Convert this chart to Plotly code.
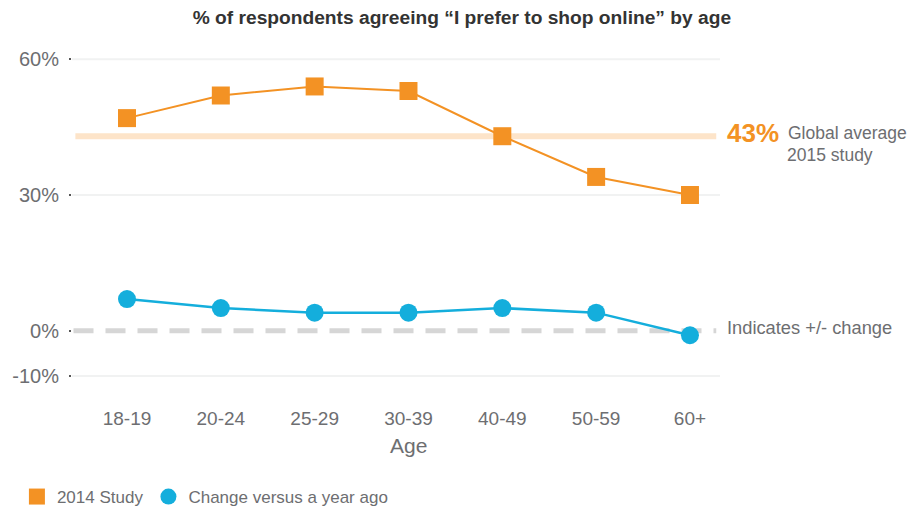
import plotly.graph_objects as go

# Survey data
age_groups = ["18-19", "20-24", "25-29", "30-39", "40-49", "50-59", "60+"]
study_2014 = [47, 52, 54, 53, 43, 34, 30]
change_vs_year_ago = [7, 5, 4, 4, 5, 4, -1]
global_average_2015 = 43
y_ticks = [60, 30, 0, -10]
y_tick_labels = ["60%", "30%", "0%", "-10%"]
grid_values = [60, 30, -10]

ORANGE = "#f39224"
BLUE = "#14aedc"
GREY_TEXT = "#6d6e71"
FONT = "Liberation Sans, Arial, sans-serif"

# plot area in pixels: x 72..720, y 50..385
PLOT_W = 648.0
PLOT_H = 335.0


def px_x(px):
    return (px - 72) / PLOT_W


def px_y(py):
    return (385 - py) / PLOT_H


fig = go.Figure()

# faint horizontal grid lines
for g in grid_values:
    fig.add_shape(type="line", xref="paper", yref="y", layer="below",
                  x0=0, x1=1, y0=g, y1=g,
                  line=dict(color="#f1f2f2", width=2))

# 2015 global average band
fig.add_shape(type="line", xref="x", yref="y", layer="below",
              x0=-0.55, x1=6.28, y0=global_average_2015, y1=global_average_2015,
              line=dict(color="#fde4c9", width=6))

# dashed zero reference
fig.add_shape(type="line", xref="x", yref="y", layer="below",
              x0=-0.57, x1=6.28, y0=0, y1=0,
              line=dict(color="#d6d6d6", width=5, dash="20px,12px"))

fig.add_trace(go.Scatter(
    x=age_groups, y=study_2014, mode="lines+markers", name="2014 Study",
    showlegend=False,
    line=dict(color=ORANGE, width=2),
    marker=dict(symbol="square", size=18, color=ORANGE)))

fig.add_trace(go.Scatter(
    x=age_groups, y=change_vs_year_ago, mode="lines+markers",
    name="Change versus a year ago", showlegend=False,
    line=dict(color=BLUE, width=2.5),
    marker=dict(symbol="circle", size=18, color=BLUE)))

# legend entries (markers only)
fig.add_trace(go.Scatter(x=[None], y=[None], mode="markers", name="2014 Study",
                         marker=dict(symbol="square", size=18, color=ORANGE)))
fig.add_trace(go.Scatter(x=[None], y=[None], mode="markers",
                         name="Change versus a year ago",
                         marker=dict(symbol="circle", size=18, color=BLUE)))

annotations = [
    dict(x=px_x(725), y=global_average_2015, xref="paper", yref="y",
         xanchor="left", yanchor="middle", yshift=3, showarrow=False,
         text="<b>43%</b>", font=dict(size=26, color=ORANGE, family=FONT)),
    dict(x=px_x(786), y=px_y(133), xref="paper", yref="paper",
         xanchor="left", yanchor="middle", showarrow=False,
         text="Global average", font=dict(size=17.5, color=GREY_TEXT, family=FONT)),
    dict(x=px_x(785), y=px_y(155), xref="paper", yref="paper",
         xanchor="left", yanchor="middle", showarrow=False,
         text="2015 study", font=dict(size=17.5, color=GREY_TEXT, family=FONT)),
    dict(x=px_x(725), y=px_y(327), xref="paper", yref="paper",
         xanchor="left", yanchor="middle", showarrow=False,
         text="Indicates +/- change",
         font=dict(size=18.3, color=GREY_TEXT, family=FONT)),
    dict(x="30-39", y=0, xref="x", yref="paper", yshift=-47, yanchor="top",
         showarrow=False, text="Age",
         font=dict(size=21, color=GREY_TEXT, family=FONT)),
]

fig.update_layout(
    width=911, height=512,
    margin=dict(l=72, r=191, t=50, b=127, autoexpand=False),
    paper_bgcolor="white", plot_bgcolor="white",
    font=dict(family=FONT, color=GREY_TEXT),
    annotations=annotations,
    title=dict(text="<b>% of respondents agreeing “I prefer to shop online” by age</b>",
               x=0.507, xanchor="center", y=0.966, yanchor="middle",
               font=dict(size=19.2, color="#333333", family=FONT)),
    xaxis=dict(type="category", categoryorder="array", categoryarray=age_groups,
               range=[-0.586, 6.32], showgrid=False, showline=False,
               zeroline=False, ticks="", ticklabelstandoff=20,
               tickfont=dict(size=19, color=GREY_TEXT)),
    yaxis=dict(range=[-12, 62.06], tickvals=y_ticks, ticktext=y_tick_labels,
               showgrid=False, zeroline=False, showline=False,
               ticks="outside", ticklen=2, tickwidth=2, tickcolor="#555555",
               ticklabelstandoff=6,
               tickfont=dict(size=20, color=GREY_TEXT)),
    legend=dict(orientation="h", x=-0.085, xanchor="left", y=px_y(497),
                yanchor="middle", font=dict(size=17, color=GREY_TEXT),
                itemsizing="trace", bgcolor="rgba(0,0,0,0)"),
    showlegend=True,
)

fig.write_html("out.html")
